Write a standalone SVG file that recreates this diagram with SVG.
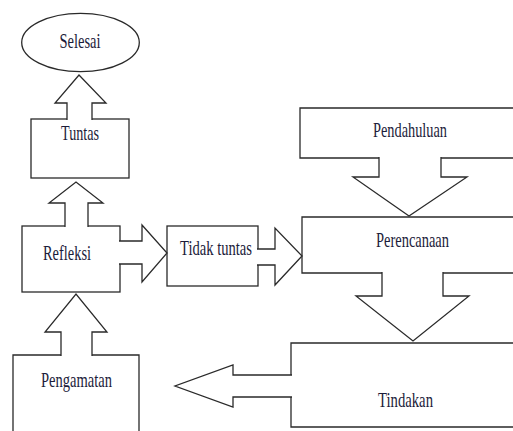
<svg xmlns="http://www.w3.org/2000/svg" width="513" height="431" viewBox="0 0 513 431">
<style>
.b{fill:#fff;stroke:#2a2a2a;stroke-width:1.3}
.a{fill:#fff;stroke:#2a2a2a;stroke-width:1.3;stroke-linejoin:miter}
.t{font-family:"Liberation Serif","Times New Roman",serif;font-size:22px;fill:#1c1c3a;text-anchor:middle}
</style>
<rect width="513" height="431" fill="#fff"/>
<g id="selesai">
<ellipse class="b" cx="80.5" cy="42.5" rx="58.8" ry="29.2"/>
<text class="t" x="80" y="48" textLength="41" lengthAdjust="spacingAndGlyphs">Selesai</text>
</g>
<g id="tuntas">
<rect class="b" x="31" y="119" width="98" height="59"/>
<text class="t" x="80" y="140" textLength="38" lengthAdjust="spacingAndGlyphs">Tuntas</text>
</g>
<g id="refleksi">
<rect class="b" x="22" y="226" width="98" height="66"/>
<text class="t" x="67" y="260" textLength="48" lengthAdjust="spacingAndGlyphs">Refleksi</text>
</g>
<g id="tidak-tuntas">
<rect class="b" x="167" y="226" width="91" height="60"/>
<text class="t" x="216" y="255" textLength="72" lengthAdjust="spacingAndGlyphs">Tidak tuntas</text>
</g>
<g id="pendahuluan">
<path class="b" d="M515,108 H300 V158 H515"/>
<text class="t" x="410" y="137" textLength="74" lengthAdjust="spacingAndGlyphs">Pendahuluan</text>
</g>
<g id="perencanaan">
<path class="b" d="M515,217 H302 V273 H515"/>
<text class="t" x="412.5" y="247" textLength="73" lengthAdjust="spacingAndGlyphs">Perencanaan</text>
</g>
<g id="tindakan">
<path class="b" d="M515,343 H291 V427 H515"/>
<text class="t" x="405.5" y="407" textLength="55" lengthAdjust="spacingAndGlyphs">Tindakan</text>
</g>
<g id="pengamatan">
<path class="b" d="M13,432 V355 H139 V432"/>
<text class="t" x="76.5" y="387" textLength="71" lengthAdjust="spacingAndGlyphs">Pengamatan</text>
</g>
<g id="connectors">
<path class="a" d="M67,120 V103 H55 L79,75 L106,103 H92 V120"/>
<path class="a" d="M65,227 V203 H49 L76,182 L103,203 H88 V227"/>
<path class="a" d="M61,356 V332 H45 L76,294 L107,332 H92 V356"/>
<path class="a" d="M119,241 H142 V225 L167,253 L142,282 V264 H119"/>
<path class="a" d="M257,249 H275 V228 L302,256 L275,285 V265 H257"/>
<path class="a" d="M379,157 V177 H353 L409,216 L467,177 H441 V157"/>
<path class="a" d="M382,272 V296 H356 L413,341 L469,296 H443 V272"/>
<path class="a" d="M292,375 H233 V365 L175,386 L233,407 V397 H292"/>
</g>
</svg>
